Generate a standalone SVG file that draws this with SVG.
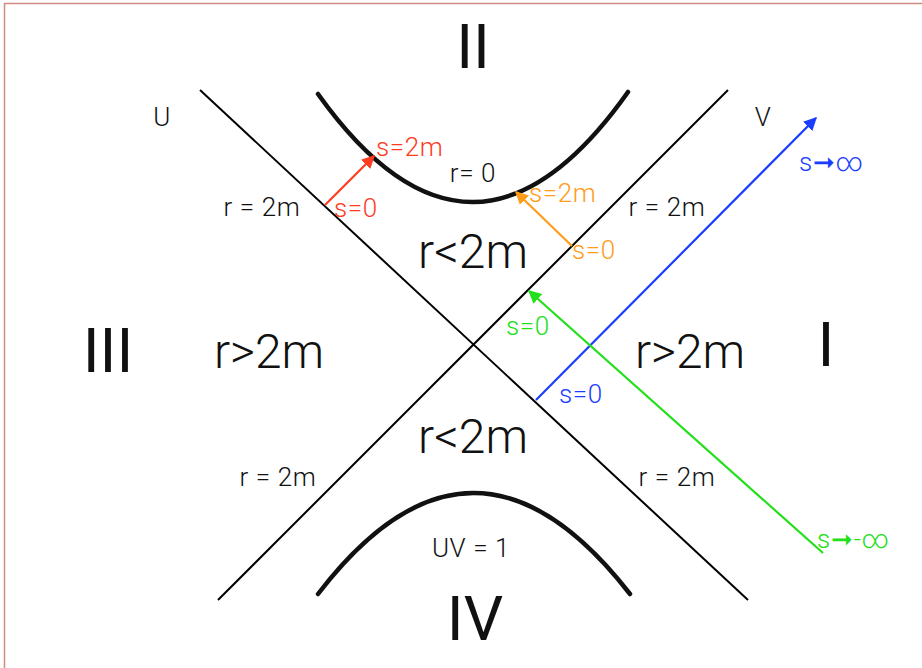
<svg xmlns="http://www.w3.org/2000/svg" width="922" height="668" viewBox="0 0 922 668">
<style>
text{font-family:Roboto,"Liberation Sans",sans-serif;font-weight:300;text-anchor:middle;fill:#111}
.big{font-size:62px;font-weight:400}
.mid{font-size:48px}
.sm{font-size:26px;letter-spacing:0.6px}
.lab{font-size:26px;letter-spacing:0.6px;text-anchor:start}
.axis{stroke:#000;stroke-width:2;fill:none}
.sing{stroke:#111;stroke-width:4.5;fill:none;stroke-linecap:round}
</style>
<defs>
<marker id="aRed" viewBox="0 0 10 10" refX="9" refY="5" markerWidth="6" markerHeight="6" orient="auto" markerUnits="strokeWidth"><path d="M0,0 L10,5 L0,10 z" fill="#ff3b1f"/></marker>
<marker id="aOr" viewBox="0 0 10 10" refX="9" refY="5" markerWidth="6" markerHeight="6" orient="auto" markerUnits="strokeWidth"><path d="M0,0 L10,5 L0,10 z" fill="#ff9c1a"/></marker>
<marker id="aBl" viewBox="0 0 10 10" refX="9" refY="5" markerWidth="6" markerHeight="6" orient="auto" markerUnits="strokeWidth"><path d="M0,0 L10,5 L0,10 z" fill="#1a3dff"/></marker>
<marker id="aGr" viewBox="0 0 10 10" refX="9" refY="5" markerWidth="6" markerHeight="6" orient="auto" markerUnits="strokeWidth"><path d="M0,0 L10,5 L0,10 z" fill="#22e01a"/></marker>
</defs>
<rect width="922" height="668" fill="#fff"/>
<path d="M4.5,668 V3.5 H922" stroke="#d08a80" stroke-width="1.5" fill="none"/>
<g id="axes">
<line class="axis" x1="200" y1="90" x2="748" y2="600"/>
<line class="axis" x1="218" y1="600" x2="728" y2="90"/>
</g>
<g id="singularities">
<path class="sing" d="M318,94 Q473,311 628,92"/>
<path class="sing" d="M318,594 Q473,392 630,594"/>
</g>
<g id="connectors">
<line x1="325" y1="205" x2="374" y2="156" stroke="#ff3b1f" stroke-width="2.2" marker-end="url(#aRed)"/>
<line x1="572" y1="246" x2="516" y2="192" stroke="#ff9c1a" stroke-width="2.2" marker-end="url(#aOr)"/>
<line x1="536" y1="400" x2="816" y2="118" stroke="#1a3dff" stroke-width="2.2" marker-end="url(#aBl)"/>
<line x1="823" y1="553" x2="529" y2="291" stroke="#22e01a" stroke-width="2.2" marker-end="url(#aGr)"/>
</g>
<g id="regions">
<text class="big" x="473" y="68">II</text>
<text class="big" x="108" y="372">III</text>
<text class="big" x="826" y="366">I</text>
<text class="big" x="475" y="640">IV</text>
<text class="mid" x="473" y="268">r&lt;2m</text>
<text class="mid" x="473" y="453">r&lt;2m</text>
<text class="mid" x="269" y="368">r&gt;2m</text>
<text class="mid" x="690" y="368">r&gt;2m</text>
</g>
<g id="labels">
<text class="sm" x="162" y="126">U</text>
<text class="sm" x="763" y="126">V</text>
<text class="sm" x="262" y="216">r = 2m</text>
<text class="sm" x="667" y="216">r = 2m</text>
<text class="sm" x="278" y="486">r = 2m</text>
<text class="sm" x="677" y="486">r = 2m</text>
<text class="sm" x="473" y="182">r= 0</text>
<text class="sm" x="471" y="557">UV = 1</text>
<text class="lab" x="376" y="156" style="fill:#ff3b1f">s=2m</text>
<text class="lab" x="334" y="217" style="fill:#ff3b1f">s=0</text>
<text class="lab" x="529" y="202" style="fill:#ff9c1a">s=2m</text>
<text class="lab" x="572" y="259" style="fill:#ff9c1a">s=0</text>
<text class="lab" x="799" y="171" style="fill:#1a3dff">s➞∞</text>
<text class="lab" x="559" y="403" style="fill:#1a3dff">s=0</text>
<text class="lab" x="506" y="335" style="fill:#22e01a">s=0</text>
<text class="lab" x="817" y="548" style="fill:#22e01a">s➞-∞</text>
</g>
</svg>
